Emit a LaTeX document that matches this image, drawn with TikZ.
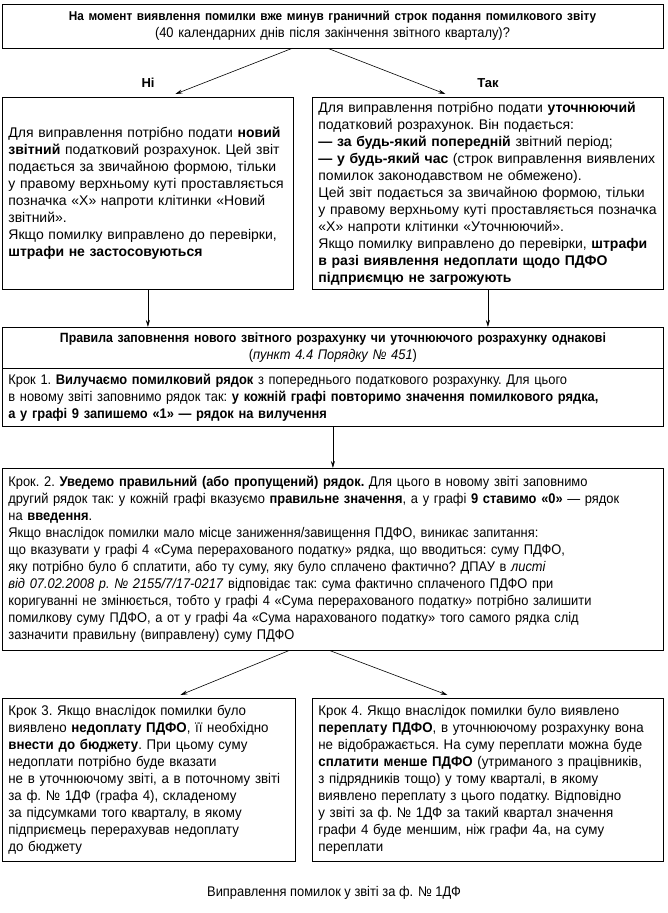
\documentclass[tikz,border=0pt]{standalone}
\usepackage{fontspec}
\setmainfont{Liberation Sans}
\newfontfamily\condfont[FakeStretch=0.92]{Liberation Sans}
\newfontfamily\semifont[FakeStretch=0.95]{Liberation Sans}
\usetikzlibrary{arrows.meta}
\tikzset{
  box/.style={draw=black, line width=0.8pt, rectangle, inner xsep=6pt, inner ysep=4pt, anchor=north west, align=left, font=\frenchspacing\fontsize{14}{17}\selectfont},
  cbox/.style={box, font=\frenchspacing\condfont\fontsize{14}{17}\selectfont},
  sbox/.style={box, font=\frenchspacing\semifont\fontsize{14}{17}\selectfont},
  lbl/.style={font=\bfseries\fontsize{13}{15}\selectfont, inner sep=0pt},
  arr/.style={-{Stealth[length=7pt,width=4pt]}, line width=0.6pt}
}
\begin{document}
\begin{tikzpicture}[x=1pt,y=-1pt]
\useasboundingbox (0,0) rectangle (668,913);
\node[cbox, anchor=center, align=center, minimum width=661pt, minimum height=44pt, text width=649pt] (top) at (332.5,26)
  {{\fontsize{12.8}{17}\selectfont\bfseries На момент виявлення помилки вже минув граничний строк подання помилкового звіту}\\
   (40 календарних днів після закінчення звітного кварталу)?};
\node[lbl] (ni) at (148,83) {Ні};
\node[lbl] (tak) at (488,83) {Так};
\node[box, minimum width=291pt, minimum height=192pt, text width=279pt] (left) at (2,97)
  {Для виправлення потрібно подати \textbf{новий}\\
   \textbf{звітний} податковий розрахунок. Цей звіт\\
   подається за звичайною формою, тільки\\
   у правому верхньому куті проставляється\\
   позначка «Х» напроти клітинки «Новий\\
   звітний».\\
   Якщо помилку виправлено до перевірки,\\
   \textbf{штрафи не застосовуються}};
\node[box, minimum width=351pt, minimum height=192pt, text width=339pt] (right) at (312,97)
  {Для виправлення потрібно подати \textbf{уточнюючий}\\
   податковий розрахунок. Він подається:\\
   \textbf{— за будь-який попередній} звітний період;\\
   \textbf{— у будь-який час} (строк виправлення виявлених\\
   помилок законодавством не обмежено).\\
   Цей звіт подається за звичайною формою, тільки\\
   у правому верхньому куті проставляється позначка\\
   «Х» напроти клітинки «Уточнюючий».\\
   Якщо помилку виправлено до перевірки, \textbf{штрафи}\\
   \textbf{в разі виявлення недоплати щодо ПДФО}\\
   \textbf{підприємцю не загрожують}};
\node[cbox, align=center, minimum width=661pt, minimum height=41pt, text width=649pt] (mid) at (2,327)
  {{\fontsize{13.4}{17}\selectfont\bfseries Правила заповнення нового звітного розрахунку чи уточнюючого розрахунку однакові}\\
   (\textit{пункт 4.4 Порядку № 451})};
\node[cbox, minimum width=661pt, minimum height=58pt, text width=649pt] (step1) at (2,368)
  {Крок 1. \textbf{Вилучаємо помилковий рядок} з попереднього податкового розрахунку. Для цього\\
   в новому звіті заповнимо рядок так: \textbf{у кожній графі повторимо значення помилкового рядка,}\\
   \textbf{а у графі 9 запишемо «1» — рядок на вилучення}};
\node[cbox, minimum width=661pt, minimum height=182pt, text width=649pt] (step2) at (2,468)
  {Крок. 2. \textbf{Уведемо правильний (або пропущений) рядок.} Для цього в новому звіті заповнимо\\
   другий рядок так: у кожній графі вказуємо \textbf{правильне значення}, а у графі \textbf{9 ставимо «0»} — рядок\\
   на \textbf{введення}.\\
   Якщо внаслідок помилки мало місце заниження/завищення ПДФО, виникає запитання:\\
   що вказувати у графі 4 «Сума перерахованого податку» рядка, що вводиться: суму ПДФО,\\
   яку потрібно було б сплатити, або ту суму, яку було сплачено фактично? ДПАУ в \textit{листі}\\
   \textit{від 07.02.2008 р. № 2155/7/17-0217} відповідає так: сума фактично сплаченого ПДФО при\\
   коригуванні не змінюється, тобто у графі 4 «Сума перерахованого податку» потрібно залишити\\
   помилкову суму ПДФО, а от у графі 4а «Сума нарахованого податку» того самого рядка слід\\
   зазначити правильну (виправлену) суму ПДФО};
\node[sbox, minimum width=293pt, minimum height=163pt, text width=281pt] (step3) at (2,698)
  {Крок 3. Якщо внаслідок помилки було\\
   виявлено \textbf{недоплату ПДФО}, її необхідно\\
   \textbf{внести до бюджету}. При цьому суму\\
   недоплати потрібно буде вказати\\
   не в уточнюючому звіті, а в поточному звіті\\
   за ф. № 1ДФ (графа 4), складеному\\
   за підсумками того кварталу, в якому\\
   підприємець перерахував недоплату\\
   до бюджету};
\node[sbox, minimum width=351pt, minimum height=163pt, text width=339pt] (step4) at (312,698)
  {Крок 4. Якщо внаслідок помилки було виявлено\\
   \textbf{переплату ПДФО}, в уточнюючому розрахунку вона\\
   не відображається. На суму переплати можна буде\\
   \textbf{сплатити менше ПДФО} (утриманого з працівників,\\
   з підрядників тощо) у тому кварталі, в якому\\
   виявлено переплату з цього податку. Відповідно\\
   у звіті за ф. № 1ДФ за такий квартал значення\\
   графи 4 буде меншим, ніж графи 4а, на суму\\
   переплати};
\node[font=\condfont\fontsize{14}{17}\selectfont, inner sep=0pt] (cap) at (334,893) {Виправлення помилок у звіті за ф. № 1ДФ};
\draw[arr] ([xshift=-40.5pt]top.south) -- ([xshift=27.5pt,yshift=3pt]left.north);
\draw[arr] ([xshift=-4.5pt]top.south) -- ([xshift=-42.5pt,yshift=3pt]right.north);
\draw[arr] (left.south) -- (left.south |- mid.north);
\draw[arr] (right.south) -- (right.south |- mid.north);
\draw[arr] (step1.south) -- (step2.north);
\draw[arr] ([xshift=-44.5pt]step2.south) -- ([xshift=31.5pt,yshift=3pt]step3.north);
\draw[arr] ([xshift=-2.5pt]step2.south) -- ([xshift=-40.5pt,yshift=3pt]step4.north);
\end{tikzpicture}
\end{document}
